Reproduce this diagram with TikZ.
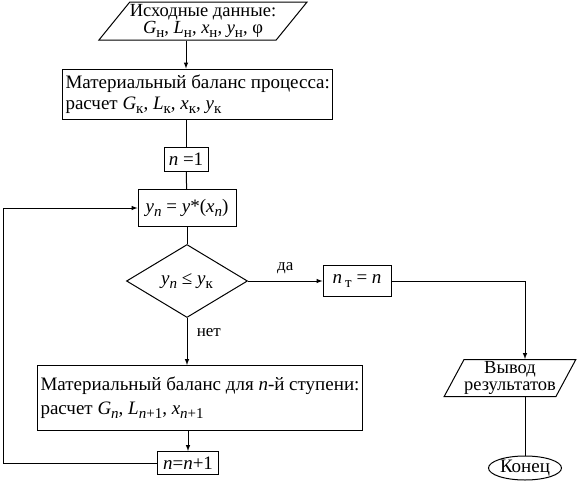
\documentclass[tikz,border=0pt]{standalone}
\usepackage{fontspec}
\setmainfont{Liberation Serif}
\usetikzlibrary{arrows,shapes.geometric,positioning}
\newcommand{\ivar}[2]{\textit{#1}\raisebox{-0.45ex}{\fontsize{15}{15}\selectfont #2}}

\begin{document}
\begin{tikzpicture}[
				x=1pt, y=-1pt,
				box style/.style={
					draw,
					align=left,
					inner xsep=3pt,
					inner ysep=2pt,
					font=\fontsize{19}{21}\selectfont
				},
				io style/.style={
					draw,
					trapezium,
					trapezium stretches=true,
					align=center,
					inner sep=0pt,
					font=\fontsize{18.5}{17}\selectfont
				},
				cond style/.style={
					draw,
					diamond,
					inner sep=0pt,
					minimum width=121,
					minimum height=73,
					font=\fontsize{19}{21}\selectfont
				},
				label style/.style={font=\fontsize{17}{19}\selectfont},
				>=latex,
				line width=1pt
				]
				\useasboundingbox (0,0) rectangle (587,482);
				
				\node[io style, trapezium left angle=47, trapezium right angle=133,
				minimum width=206, minimum height=38] (in) at (203,21)
				{Исходные данные:\\ \ivar{G}{н}, \ivar{L}{н}, \ivar{x}{н}, \ivar{y}{н}, φ};
				
				\node[box style, anchor=west, minimum height=50] (mb) at (62,94)
				{Материальный баланс процесса:\\ расчет \ivar{G}{к}, \ivar{L}{к}, \ivar{x}{к}, \ivar{y}{к}};
				
				\node[box style, align=center, minimum width=44, minimum height=24] (n1) at (186,159) {\textit{n} =1};
				
				\node[box style, align=center, minimum width=98, minimum height=37] (yn) at (187,208)
				{\ivar{y}{\textit{n}} = \textit{y}*(\ivar{x}{\textit{n}})};
				
				\node[cond style] (cond) at (187,281) {\ivar{y}{\textit{n}} ≤ \ivar{y}{к}};
				
				\node[box style, align=center, minimum width=68, minimum height=31] (nt) at (357,281) {\textit{n}\,\ivar{}{т} = \textit{n}};
				
				\node[io style, trapezium left angle=59, trapezium right angle=121,
				minimum width=130, minimum height=37] (out) at (510,378)
				{Вывод\\ результатов};
				
				\node[draw, ellipse, inner sep=0pt, minimum width=73, minimum height=24,
				font=\fontsize{19}{21}\selectfont] (end) at (525,468) {Конец};
				
				\node[box style, anchor=west, minimum height=65] (mbn) at (37,398)
				{Материальный баланс для \textit{n}-й ступени:\\[3pt] расчет \ivar{G}{\textit{n}}, \ivar{L}{\textit{n}+1}, \ivar{x}{\textit{n}+1}};
				
				\node[box style, align=center, minimum width=61, minimum height=23] (nn) at (188,463) {\textit{n}=\textit{n}+1};
				
				\coordinate (back) at (3,463);
				
				\draw[->] (in.south -| n1) -- (mb.north -| n1);
				\draw (mb.south -| n1) -- (n1);
				\draw (n1) -- (yn);
				\draw (yn) -- (cond);
				\draw[->] (cond) -- node[label style, above, yshift=3pt] {да} (nt);
				\draw[->] (nt) -| (end |- out.north);
				\draw (out.south -| end) -- (end);
				\draw[->] (cond) -- node[label style, right, pos=0.3, xshift=6pt] {нет} (mbn.north -| cond);
				\draw[->] (mbn.south -| nn) -- (nn);
				\draw[->] (nn) -- (back) |- (yn);
				
			\end{tikzpicture}
\end{document}
